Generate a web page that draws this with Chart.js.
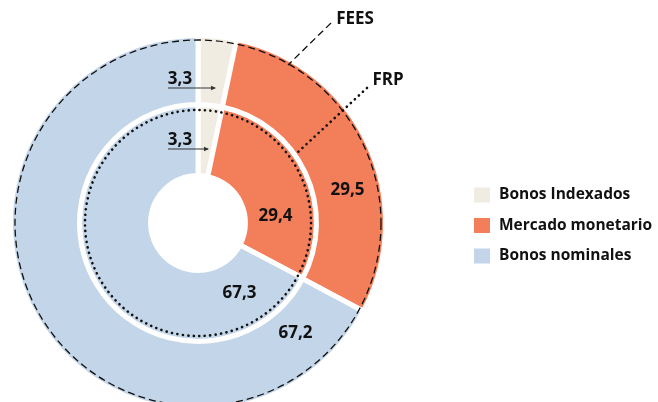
<!DOCTYPE html>
<html>
<head>
<meta charset="utf-8">
<script src="https://cdn.jsdelivr.net/npm/chart.js@4"></script>
<style>
  html, body { margin: 0; padding: 0; background: #fff; overflow: hidden; }
  #wrap { width: 658px; height: 430px; }
</style>
</head>
<body>
<div id="wrap"><canvas id="myChart" width="658" height="430"></canvas></div>
<script>
// data
var categories = ["Bonos Indexados", "Mercado monetario", "Bonos nominales"];
var seriesNames = ["FEES", "FRP"];
var feesValues = [3.3, 29.5, 67.2];
var frpValues = [3.3, 29.4, 67.3];
var sliceColors = ["#F0ECE1", "#F37E5A", "#C3D5E8"];

var FONT = "bold 17px 'Open Sans', 'DejaVu Sans', sans-serif";

function fmt(v) {
    return v.toFixed(1).replace(".", ",");
}

// value labels, offsets from the chart centre
var outerLabelPos = [[-18, -144], [149.5, -32.5], [97.5, 110]];
var innerLabelPos = [[-18, -83], [77.5, -7], [41.5, 70]];

var extras = {
    id: "extras",
    afterDatasetsDraw: function(chart) {
        var ctx = chart.ctx;
        var arc = chart.getDatasetMeta(0).data[0];
        var cx = arc.x, cy = arc.y;

        ctx.save();
        ctx.strokeStyle = "#111";

        // dashed circle round the FEES ring
        ctx.lineWidth = 1.3;
        ctx.setLineDash([7, 4]);
        ctx.beginPath();
        ctx.arc(cx, cy, 183, 0, Math.PI * 2);
        ctx.stroke();
        // FEES leader
        ctx.beginPath();
        ctx.moveTo(cx + 133, cy - 200);
        ctx.lineTo(cx + 90, cy - 158);
        ctx.stroke();

        // dotted circle round the FRP ring
        ctx.lineWidth = 2.6;
        ctx.lineCap = "round";
        ctx.setLineDash([0.1, 5.4]);
        ctx.beginPath();
        ctx.arc(cx, cy, 113, 0, Math.PI * 2);
        ctx.stroke();
        ctx.beginPath();
        ctx.moveTo(cx + 169, cy - 135);
        ctx.lineTo(cx + 99, cy - 70);
        ctx.stroke();
        ctx.setLineDash([]);
        ctx.lineCap = "butt";

        // series names
        ctx.fillStyle = "#111";
        ctx.font = FONT;
        ctx.textAlign = "center";
        ctx.textBaseline = "middle";
        ctx.fillText(seriesNames[0], cx + 157, cy - 204);
        ctx.fillText(seriesNames[1], cx + 190, cy - 143);

        // values
        function drawVals(vals, pos) {
            for (var i = 0; i < vals.length; i++) {
                var x = cx + pos[i][0], y = cy + pos[i][1];
                ctx.fillStyle = "#111";
                ctx.fillText(fmt(vals[i]), x, y);
            }
        }
        drawVals(feesValues, outerLabelPos);
        drawVals(frpValues, innerLabelPos);

        // underline + arrow for the small slices
        function pointer(x0, y0, x1) {
            ctx.strokeStyle = "#333";
            ctx.fillStyle = "#333";
            ctx.lineWidth = 1.2;
            ctx.beginPath();
            ctx.moveTo(x0, y0);
            ctx.lineTo(x1, y0);
            ctx.stroke();
            ctx.beginPath();
            ctx.moveTo(x1 + 1, y0);
            ctx.lineTo(x1 - 4, y0 - 2.2);
            ctx.lineTo(x1 - 4, y0 + 2.2);
            ctx.closePath();
            ctx.fill();
        }
        pointer(cx - 30, cy - 135, cx + 17);
        pointer(cx - 30, cy - 74, cx + 10);

        // legend
        ctx.textAlign = "left";
        ctx.font = "bold 15.5px 'Open Sans', 'DejaVu Sans', sans-serif";
        for (var i = 0; i < categories.length; i++) {
            var ly = 195 + i * 30.5;
            ctx.fillStyle = sliceColors[i];
            ctx.fillRect(474, ly - 7.5, 16, 15);
            ctx.fillStyle = "#111";
            ctx.fillText(categories[i], 499, ly);
        }
        ctx.restore();
    }
};

new Chart("myChart", {
    type: "doughnut",
    data: {
        labels: categories,
        datasets: [{
            label: seriesNames[0],
            data: feesValues,
            backgroundColor: sliceColors,
            weight: 69
        }, {
            label: seriesNames[1],
            data: frpValues,
            backgroundColor: sliceColors,
            weight: 71
        }]
    },
    options: {
        responsive: false,
        animation: false,
        cutout: "25.3%",
        borderColor: "#ffffff",
        borderWidth: 5,
        hoverOffset: 0,
        layout: {padding: {left: 8, top: 33, right: 270, bottom: 17}},
        plugins: {
            legend: {display: false},
            tooltip: {enabled: false}
        }
    },
    plugins: [extras]
});
</script>
</body>
</html>
